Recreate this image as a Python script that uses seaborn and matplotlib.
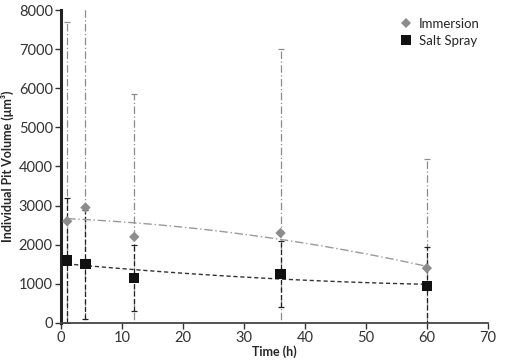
import numpy as np
import pandas as pd
import matplotlib
matplotlib.use("Agg")
import matplotlib.pyplot as plt
import seaborn as sns

# values
time_h = [1, 4, 12, 36, 60]
immersion = [2600, 2950, 2200, 2300, 1400]
immersion_err = [5100, 5600, 3650, 4700, 2800]
salt_spray = [1600, 1500, 1150, 1250, 950]
salt_spray_err = [1600, 1400, 850, 850, 1000]

sns.set_style("ticks")
plt.rcParams['font.family'] = ['Lato', 'DejaVu Sans']

df = pd.DataFrame({
    "Time (h)": time_h * 2,
    "value": immersion + salt_spray,
    "series": ["Immersion"] * 5 + ["Salt Spray"] * 5,
})

fig = plt.figure(figsize=(5.05, 3.6), dpi=100)
ax = fig.add_axes([0.121, 0.103, 0.845, 0.869])

# error bars
ax.errorbar(time_h, immersion, yerr=immersion_err, fmt="none", ecolor="#8c8c8c",
            elinewidth=0.9, capsize=2.5, capthick=0.9)
eb = ax.errorbar(time_h, salt_spray, yerr=salt_spray_err, fmt="none", ecolor="#222222",
                 elinewidth=0.9, capsize=2.5, capthick=0.9)
for c in eb[2]:
    c.set_linestyle((0, (4, 2)))
# dash-dot for immersion bars
for c in ax.collections[0:1]:
    c.set_linestyle((0, (6, 2, 1, 2)))

# polynomial trend lines
xs = np.linspace(1, 60, 100)
fit_i = np.polyfit(time_h, immersion, 2)
fit_s = np.polyfit(time_h, salt_spray, 2)
sns.lineplot(x=xs, y=np.polyval(fit_i, xs), ax=ax, color="#9a9a9a", lw=1,
             linestyle=(0, (6, 2, 1, 2)))
sns.lineplot(x=xs, y=np.polyval(fit_s, xs), ax=ax, color="#333333", lw=1,
             linestyle=(0, (3, 2)))

sns.scatterplot(data=df, x="Time (h)", y="value", hue="series", style="series",
                palette={"Immersion": "#8c8c8c", "Salt Spray": "#111111"},
                markers={"Immersion": "D", "Salt Spray": "s"},
                size="series", sizes={"Immersion": 28, "Salt Spray": 55},
                linewidth=0, ax=ax, zorder=5)

ax.set_xlim(0, 70)
ax.set_ylim(0, 8000)
ax.set_xticks(range(0, 71, 10))
ax.set_yticks(range(0, 8001, 1000))
ax.tick_params(labelsize=10.5, colors="#333333", length=4, width=1, pad=2)
ax.set_xlabel("Time (h)", fontsize=9, fontweight="bold", labelpad=0)
ax.set_ylabel("Individual Pit Volume (μm³)", fontsize=9, fontweight="bold", labelpad=3)
ax.spines["left"].set_linewidth(2.2)
ax.spines["bottom"].set_linewidth(1.3)
ax.spines["left"].set_color("#222222")
ax.spines["bottom"].set_color("#444444")
sns.despine(ax=ax)

handles, labels = ax.get_legend_handles_labels()
ax.legend(handles[-2:], labels[-2:], loc="upper right", frameon=False,
          fontsize=9.5, handletextpad=0.0, borderaxespad=0.2, labelspacing=0.35,
          bbox_to_anchor=(1.0, 1.0))

fig.savefig("out.png", dpi=100)
